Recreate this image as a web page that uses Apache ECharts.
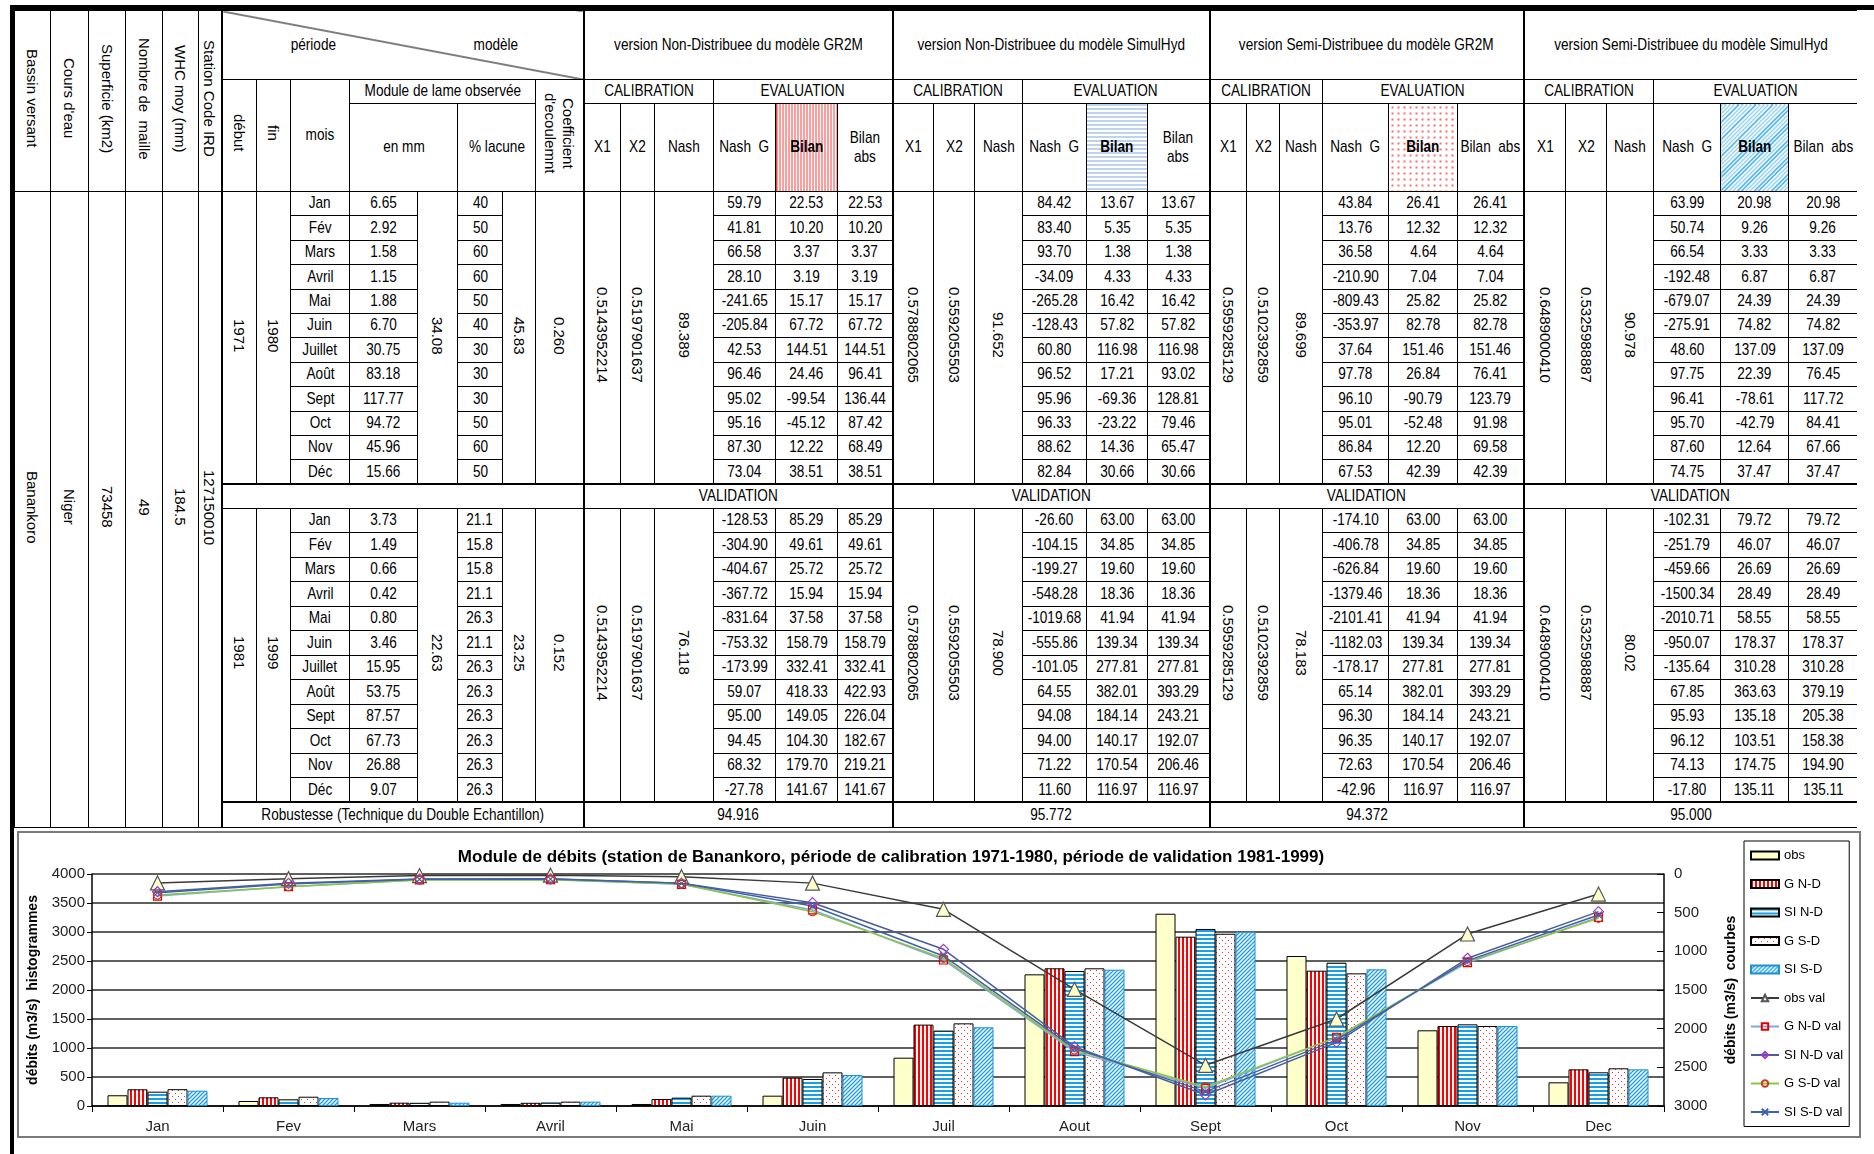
<!DOCTYPE html>
<html>
<head>
<meta charset="utf-8">
<title>Module de débits - Banankoro</title>
<script src="https://cdn.jsdelivr.net/npm/echarts@6.0.0/dist/echarts.min.js"></script>
<style>
    html, body { margin: 0; padding: 0; background: #fff; }
    body {
        width: 1874px; height: 1154px; position: relative; overflow: hidden;
        font-family: 'Liberation Sans', Arial, sans-serif;
        color: #000;
    }
    #topLine { position: absolute; left: 10px; top: 5px; width: 1864px; height: 5px; background: #000; }
    #leftLine { position: absolute; left: 10px; top: 5px; width: 4px; height: 1149px; background: #000; }
    #tbl {
        position: absolute; left: 14px; top: 10px; width: 1842px;
        border-collapse: collapse; table-layout: fixed; font-size: 17px;
    }
    #tbl td {
        border: 1px solid #000; padding: 0; text-align: center; vertical-align: middle;
        overflow: hidden; white-space: nowrap; line-height: 1.1;
    }
    #tbl tr > td:last-child { border-right: none; }
    /* police étroite façon Arial Narrow */
    .n { display: inline-block; transform: scaleX(0.8); margin: 0 -40px; }
    .rot {
        writing-mode: vertical-rl; display: inline-block; white-space: nowrap;
        font-size: 15px; line-height: 1.15;
    }
    #tbl td.bl { border-left: 2px solid #000; }
    #tbl td.bt { border-top: 2px solid #000; }
    .diag {
        background: linear-gradient(to top right, transparent calc(50% - 1px), #000 50%, transparent calc(50% + 1px));
    }
    .diagBox { position: relative; height: 68px; }
    .diagBox span { position: absolute; top: 25px; margin: 0; }
    .bil { font-weight: bold; }
    .pRed { background: repeating-linear-gradient(90deg, #ff3b3b 0 1px, #fff 1px 3px); }
    .pBlue { background: repeating-linear-gradient(180deg, #7aa7dc 0 1px, #fff 1px 4px); }
    .pDots { background: radial-gradient(circle, #ff6a6a 0.9px, transparent 1.1px) 0 0 / 6px 6px; }
    .pDiag { background: repeating-linear-gradient(-45deg, #2aa5e6 0 1px, #fff 1px 3px); }
    #frame {
        position: absolute; left: 17px; top: 831px; width: 1844px; height: 307px;
        border: 2px solid #7a7a7a; box-sizing: border-box;
    }
    #chart { position: absolute; left: 18px; top: 834px; width: 1840px; height: 303px; }
</style>
</head>
<body>
<div id="topLine"></div>
<div id="leftLine"></div>
<table id="tbl"></table>
<div id="frame"></div>
<div id="chart"></div>

<script>
// ---- données du tableau ----
const mois = ['Jan', 'Fév', 'Mars', 'Avril', 'Mai', 'Juin', 'Juillet', 'Août', 'Sept', 'Oct', 'Nov', 'Déc']
const infoBassin = ['Banankoro', 'Niger', '73458', '49', '184.5', '127150010']

const calMm = [6.65, 2.92, 1.58, 1.15, 1.88, 6.70, 30.75, 83.18, 117.77, 94.72, 45.96, 15.66]
const calLacune = [40, 50, 60, 60, 50, 40, 30, 30, 30, 50, 60, 50]
const calResume = ['1971', '1980', '34.08', '45.83', '0.260']
const valMm = [3.73, 1.49, 0.66, 0.42, 0.80, 3.46, 15.95, 53.75, 87.57, 67.73, 26.88, 9.07]
const valLacune = [21.1, 15.8, 15.8, 21.1, 26.3, 21.1, 26.3, 26.3, 26.3, 26.3, 26.3, 26.3]
const valResume = ['1981', '1999', '22.63', '23.25', '0.152']

const modeles = ['version Non-Distribuee du modèle GR2M', 'version Non-Distribuee du modèle SimulHyd',
    'version Semi-Distribuee du modèle GR2M', 'version Semi-Distribuee du modèle SimulHyd']
const paramX1 = ['0.5143952214', '0.5788802065', '0.5959285129', '0.6489000410']
const paramX2 = ['0.5197901637', '0.5592055503', '0.5102392859', '0.5325988887']
const nashCal = ['89.389', '91.652', '89.699', '90.978']
const nashVal = ['76.118', '78.900', '78.183', '80.02']
const robustesse = ['94.916', '95.772', '94.372', '95.000']

// calibration
const gNdCalNashG = [59.79, 41.81, 66.58, 28.10, -241.65, -205.84, 42.53, 96.46, 95.02, 95.16, 87.30, 73.04]
const gNdCalBilan = [22.53, 10.20, 3.37, 3.19, 15.17, 67.72, 144.51, 24.46, -99.54, -45.12, 12.22, 38.51]
const gNdCalAbs = [22.53, 10.20, 3.37, 3.19, 15.17, 67.72, 144.51, 96.41, 136.44, 87.42, 68.49, 38.51]
const sNdCalNashG = [84.42, 83.40, 93.70, -34.09, -265.28, -128.43, 60.80, 96.52, 95.96, 96.33, 88.62, 82.84]
const sNdCalBilan = [13.67, 5.35, 1.38, 4.33, 16.42, 57.82, 116.98, 17.21, -69.36, -23.22, 14.36, 30.66]
const sNdCalAbs = [13.67, 5.35, 1.38, 4.33, 16.42, 57.82, 116.98, 93.02, 128.81, 79.46, 65.47, 30.66]
const gSdCalNashG = [43.84, 13.76, 36.58, -210.90, -809.43, -353.97, 37.64, 97.78, 96.10, 95.01, 86.84, 67.53]
const gSdCalBilan = [26.41, 12.32, 4.64, 7.04, 25.82, 82.78, 151.46, 26.84, -90.79, -52.48, 12.20, 42.39]
const gSdCalAbs = [26.41, 12.32, 4.64, 7.04, 25.82, 82.78, 151.46, 76.41, 123.79, 91.98, 69.58, 42.39]
const sSdCalNashG = [63.99, 50.74, 66.54, -192.48, -679.07, -275.91, 48.60, 97.75, 96.41, 95.70, 87.60, 74.75]
const sSdCalBilan = [20.98, 9.26, 3.33, 6.87, 24.39, 74.82, 137.09, 22.39, -78.61, -42.79, 12.64, 37.47]
const sSdCalAbs = [20.98, 9.26, 3.33, 6.87, 24.39, 74.82, 137.09, 76.45, 117.72, 84.41, 67.66, 37.47]

// validation
const gNdValNashG = [-128.53, -304.90, -404.67, -367.72, -831.64, -753.32, -173.99, 59.07, 95.00, 94.45, 68.32, -27.78]
const gNdValBilan = [85.29, 49.61, 25.72, 15.94, 37.58, 158.79, 332.41, 418.33, 149.05, 104.30, 179.70, 141.67]
const gNdValAbs = [85.29, 49.61, 25.72, 15.94, 37.58, 158.79, 332.41, 422.93, 226.04, 182.67, 219.21, 141.67]
const sNdValNashG = [-26.60, -104.15, -199.27, -548.28, -1019.68, -555.86, -101.05, 64.55, 94.08, 94.00, 71.22, 11.60]
const sNdValBilan = [63.00, 34.85, 19.60, 18.36, 41.94, 139.34, 277.81, 382.01, 184.14, 140.17, 170.54, 116.97]
const sNdValAbs = [63.00, 34.85, 19.60, 18.36, 41.94, 139.34, 277.81, 393.29, 243.21, 192.07, 206.46, 116.97]
const gSdValNashG = [-174.10, -406.78, -626.84, -1379.46, -2101.41, -1182.03, -178.17, 65.14, 96.30, 96.35, 72.63, -42.96]
const gSdValBilan = [63.00, 34.85, 19.60, 18.36, 41.94, 139.34, 277.81, 382.01, 184.14, 140.17, 170.54, 116.97]
const gSdValAbs = [63.00, 34.85, 19.60, 18.36, 41.94, 139.34, 277.81, 393.29, 243.21, 192.07, 206.46, 116.97]
const sSdValNashG = [-102.31, -251.79, -459.66, -1500.34, -2010.71, -950.07, -135.64, 67.85, 95.93, 96.12, 74.13, -17.80]
const sSdValBilan = [79.72, 46.07, 26.69, 28.49, 58.55, 178.37, 310.28, 363.63, 135.18, 103.51, 174.75, 135.11]
const sSdValAbs = [79.72, 46.07, 26.69, 28.49, 58.55, 178.37, 310.28, 379.19, 205.38, 158.38, 194.90, 135.11]

// ---- données du graphique (m3/s) ----
const moisGraph = ['Jan', 'Fev', 'Mars', 'Avril', 'Mai', 'Juin', 'Juil', 'Aout', 'Sept', 'Oct', 'Nov', 'Dec']
const obs = [185, 86, 35, 35, 35, 178, 833, 2270, 3315, 2586, 1305, 408]
const gNd = [288, 150, 57, 55, 120, 488, 1403, 2374, 2919, 2333, 1379, 632]
const siNd = [247, 115, 55, 60, 144, 465, 1300, 2327, 3052, 2471, 1408, 581]
const gSd = [290, 160, 75, 75, 178, 580, 1425, 2374, 2970, 2287, 1379, 650]
const siSd = [264, 138, 57, 75, 178, 534, 1357, 2350, 3004, 2356, 1379, 632]
const obsVal = [115, 60, 20, 15, 35, 118, 457, 1491, 2474, 1875, 776, 259]
const gNdVal = [285, 164, 75, 72, 133, 465, 1112, 2297, 2771, 2112, 1147, 560]
const siNdVal = [229, 121, 65, 62, 118, 371, 974, 2233, 2858, 2177, 1090, 487]
const gSdVal = [272, 164, 78, 75, 128, 487, 1090, 2276, 2750, 2112, 1133, 573]
const siSdVal = [241, 130, 68, 66, 121, 414, 1060, 2255, 2814, 2145, 1120, 530]

// ---- construction du tableau ----
const largeurs = [36, 38, 37, 37, 36, 23, 35, 34, 59, 68, 40, 45, 33, 48,
    37, 34, 59, 62, 62, 55, 41, 41, 48, 64, 61, 62,
    37, 33, 43, 66, 69, 66, 42, 41, 47, 67, 68, 68]
const entetesBassin = ['Bassin versant', 'Cours d\'eau', 'Superficie (km2)', 'Nombre de&nbsp; maille', 'WHC moy (mm)', 'Station Code IRD']
const motifs = ['pRed', 'pBlue', 'pDots', 'pDiag']

const calSeries = [[gNdCalNashG, gNdCalBilan, gNdCalAbs], [sNdCalNashG, sNdCalBilan, sNdCalAbs],
    [gSdCalNashG, gSdCalBilan, gSdCalAbs], [sSdCalNashG, sSdCalBilan, sSdCalAbs]]
const valSeries = [[gNdValNashG, gNdValBilan, gNdValAbs], [sNdValNashG, sNdValBilan, sNdValAbs],
    [gSdValNashG, gSdValBilan, gSdValAbs], [sSdValNashG, sSdValBilan, sSdValAbs]]

function rot(t) { return `<span class="rot">${t}</span>` }
function n(t) { return `<span class="n">${t}</span>` }

let html = '<colgroup>' + largeurs.map(w => `<col style="width:${w}px">`).join('') + '</colgroup>'

// entête ligne 1
html += '<tr style="height:69px">'
entetesBassin.forEach(t => { html += `<td rowspan="3">${rot(t)}</td>` })
html += '<td colspan="8" class="bl diag"><div class="diagBox"><span class="n" style="left:62px">période</span><span class="n" style="left:245px">modèle</span></div></td>'
modeles.forEach(t => { html += `<td colspan="6" class="bl">${n(t)}</td>` })
html += '</tr>'

// entête ligne 2
html += '<tr style="height:24px">'
html += `<td rowspan="2" class="bl">${rot('début')}</td><td rowspan="2">${rot('fin')}</td><td rowspan="2">${n('mois')}</td>`
html += `<td colspan="4">${n('Module de lame observée')}</td>`
html += `<td rowspan="2">${rot('Coefficient<br>d\'ecoulemnt')}</td>`
modeles.forEach(() => { html += `<td colspan="3" class="bl">${n('CALIBRATION')}</td><td colspan="3">${n('EVALUATION')}</td>` })
html += '</tr>'

// entête ligne 3
html += `<tr style="height:88px"><td colspan="2">${n('en mm')}</td><td colspan="2">${n('% lacune')}</td>`
modeles.forEach((t, m) => {
    const abs = m < 2 ? 'Bilan<br>abs' : 'Bilan&nbsp; abs'
    html += `<td class="bl">${n('X1')}</td><td>${n('X2')}</td><td>${n('Nash')}</td><td>${n('Nash&nbsp; G')}</td>`
    html += `<td class="bil ${motifs[m]}">${n('Bilan')}</td><td>${n(abs)}</td>`
})
html += '</tr>'

function section(mm, lacune, resume, series, nash, premier, hauteur, decLacune) {
    let s = ''
    for (let i = 0; i < 12; i++) {
        s += `<tr style="height:${hauteur}px">`
        if (premier && i === 0) {
            infoBassin.forEach(t => { s += `<td rowspan="26">${rot(t)}</td>` })
        }
        if (i === 0) s += `<td rowspan="12" class="bl">${rot(resume[0])}</td><td rowspan="12">${rot(resume[1])}</td>`
        s += `<td>${n(mois[i])}</td><td>${n(mm[i].toFixed(2))}</td>`
        if (i === 0) s += `<td rowspan="12">${rot(resume[2])}</td>`
        s += `<td>${n(lacune[i].toFixed(decLacune))}</td>`
        if (i === 0) s += `<td rowspan="12">${rot(resume[3])}</td><td rowspan="12">${rot(resume[4])}</td>`
        for (let m = 0; m < 4; m++) {
            if (i === 0) {
                s += `<td rowspan="12" class="bl">${rot(paramX1[m])}</td><td rowspan="12">${rot(paramX2[m])}</td><td rowspan="12">${rot(nash[m])}</td>`
            }
            s += `<td>${n(series[m][0][i].toFixed(2))}</td><td>${n(series[m][1][i].toFixed(2))}</td><td>${n(series[m][2][i].toFixed(2))}</td>`
        }
        s += '</tr>'
    }
    return s
}

html += section(calMm, calLacune, calResume, calSeries, nashCal, true, 24.42, 0)
html += '<tr style="height:24px"><td colspan="8" class="bl bt"></td>'
modeles.forEach(() => { html += `<td colspan="6" class="bl bt">${n('VALIDATION')}</td>` })
html += '</tr>'
html += section(valMm, valLacune, valResume, valSeries, nashVal, false, 24.5, 1)
html += `<tr style="height:25px"><td colspan="8" class="bl bt">${n('Robustesse (Technique du Double Echantillon)')}</td>`
robustesse.forEach(v => { html += `<td colspan="6" class="bl bt">${n(v)}</td>` })
html += '</tr>'
document.getElementById('tbl').innerHTML = html

// ---- graphique ----
const police = "'Liberation Sans', Arial, sans-serif"

function motif(w, h, dessin) {
    const c = document.createElement('canvas')
    c.width = w
    c.height = h
    const g = c.getContext('2d')
    g.fillStyle = '#fff'
    g.fillRect(0, 0, w, h)
    dessin(g)
    return { image: c, repeat: 'repeat' }
}

const rougeVertical = motif(4, 4, g => { g.fillStyle = '#ff0000'; g.fillRect(0, 0, 2, 4) })
const bleuHorizontal = motif(4, 4, g => { g.fillStyle = '#17a0e8'; g.fillRect(0, 0, 4, 2) })
const rougePoints = motif(6, 6, g => { g.fillStyle = '#ff2a2a'; g.fillRect(1, 1, 1, 1); g.fillRect(4, 4, 1, 1) })
const bleuDiagonal = motif(4, 4, g => {
    g.strokeStyle = '#17a0e8'
    g.lineWidth = 1.3
    g.beginPath()
    g.moveTo(0, 4); g.lineTo(4, 0)
    g.moveTo(-1, 1); g.lineTo(1, -1)
    g.moveTo(3, 5); g.lineTo(5, 3)
    g.stroke()
})

function barre(nom, data, couleur, bord) {
    return {
        name: nom, type: 'bar', data: data, barWidth: 20, barGap: '0%',
        itemStyle: { color: couleur, borderColor: bord || '#000', borderWidth: 1 }
    }
}

function courbe(nom, data, ligne, symbole, taille, remplissage, bord) {
    return {
        name: nom, type: 'line', yAxisIndex: 1, data: data,
        symbol: symbole, symbolSize: taille, showAllSymbol: true,
        lineStyle: { color: ligne, width: 1.5 },
        itemStyle: { color: remplissage, borderColor: bord, borderWidth: 1.2 }
    }
}

const myChart = echarts.init(document.getElementById('chart'))

const option = {
    animation: false,
    title: {
        text: 'Module de débits (station de Banankoro, période de calibration 1971-1980, période de validation 1981-1999)',
        left: 868, top: 10, textAlign: 'center',
        textStyle: { fontFamily: police, fontWeight: 'bold', fontSize: 17, color: '#000' }
    },
    legend: {
        orient: 'vertical', left: 1726, top: 7,
        itemWidth: 28, itemHeight: 8, itemGap: 15.5,
        padding: [8, 6, 8, 6],
        borderColor: '#000', borderWidth: 1, backgroundColor: '#fff',
        textStyle: { fontFamily: police, fontSize: 13, color: '#000' },
        data: [
            { name: 'obs', icon: 'rect' }, { name: 'G N-D', icon: 'rect' }, { name: 'SI N-D', icon: 'rect' },
            { name: 'G S-D', icon: 'rect' }, { name: 'SI S-D', icon: 'rect' },
            'obs val', 'G N-D val', 'SI N-D val', 'G S-D val', 'SI S-D val'
        ]
    },
    grid: { left: 73, right: 194, top: 40, bottom: 31 },
    xAxis: {
        type: 'category', data: moisGraph, boundaryGap: true,
        axisLine: { lineStyle: { color: '#000', width: 1.5 } },
        axisTick: { show: true, length: 6, lineStyle: { color: '#000' } },
        axisLabel: { fontFamily: police, fontSize: 15, color: '#222', margin: 13 }
    },
    yAxis: [
        {
            type: 'value', min: 0, max: 4000, interval: 500, position: 'left',
            name: 'débits (m3/s)  histogrammes', nameLocation: 'middle', nameRotate: 90, nameGap: 52,
            nameTextStyle: { fontFamily: police, fontWeight: 'bold', fontSize: 14, color: '#000' },
            axisLine: { show: true, lineStyle: { color: '#000', width: 1.5 } },
            axisTick: { show: true, length: 5, lineStyle: { color: '#000' } },
            splitLine: { lineStyle: { color: '#2a2a2a', width: 1.5 } },
            axisLabel: { fontFamily: police, fontSize: 15, color: '#222', margin: 7, formatter: v => String(v) }
        },
        {
            type: 'value', min: 0, max: 3000, interval: 500, position: 'right', inverse: true,
            name: 'débits (m3/s)  courbes', nameLocation: 'middle', nameRotate: 90, nameGap: 60,
            nameTextStyle: { fontFamily: police, fontWeight: 'bold', fontSize: 14, color: '#000' },
            axisLine: { show: true, lineStyle: { color: '#000', width: 1.5 } },
            axisTick: { show: true, inside: true, length: 7, lineStyle: { color: '#000' } },
            splitLine: { show: false },
            axisLabel: { fontFamily: police, fontSize: 15, color: '#222', margin: 10, formatter: v => String(v) }
        }
    ],
    series: [
        barre('obs', obs, '#ffffcc'),
        barre('G N-D', gNd, rougeVertical),
        barre('SI N-D', siNd, bleuHorizontal),
        barre('G S-D', gSd, rougePoints),
        barre('SI S-D', siSd, bleuDiagonal, '#1f8fcf'),
        courbe('obs val', obsVal, '#3a3a3a', 'triangle', 14, '#ffffcc', '#555'),
        courbe('G N-D val', gNdVal, '#7ea8de', 'rect', 8, 'rgba(0,0,0,0)', '#e00000'),
        courbe('SI N-D val', siNdVal, '#4a5c9e', 'diamond', 10, 'rgba(0,0,0,0)', '#9a3ccc'),
        courbe('G S-D val', gSdVal, '#8cc63f', 'circle', 8, 'rgba(0,0,0,0)', '#c83a1e'),
        courbe('SI S-D val', siSdVal, '#3f61ad', 'path://M0,0L10,10M10,0L0,10', 7, 'rgba(0,0,0,0)', '#3f61ad')
    ]
}

myChart.setOption(option)
</script>
</body>
</html>
